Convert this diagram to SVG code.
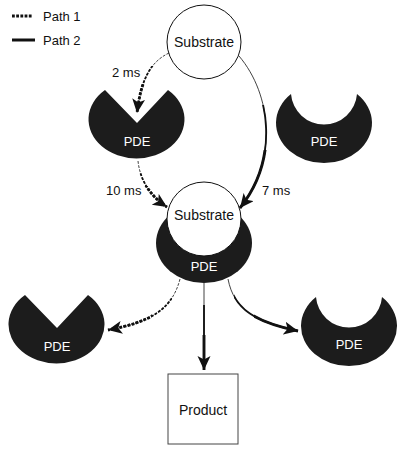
<svg xmlns="http://www.w3.org/2000/svg" xmlns:xlink="http://www.w3.org/1999/xlink" width="405" height="450" viewBox="0 0 405 450">
<style>
  .lbl { font-family: "Liberation Sans", Arial, sans-serif; font-size: 13px; fill: #111; }
  .sub { font-family: "Liberation Sans", Arial, sans-serif; font-size: 14px; fill: #111; text-anchor: middle; }
  .pde { font-family: "Liberation Sans", Arial, sans-serif; font-size: 13px; fill: #fff; text-anchor: middle; }
  .enz { fill: #1c1c1c; }
  .circ { fill: #fff; stroke: #111; stroke-width: 1; }
  .con { fill: none; stroke: #111; }
  .dot { stroke-dasharray: 2.8 1.4; }
  .w1 { stroke-width: 0.8; }
  .w2 { stroke-width: 1.8; }
  .w3 { stroke-width: 2.9; }
</style>
<defs>
  <marker id="ah" markerUnits="userSpaceOnUse" markerWidth="16" markerHeight="14" refX="14" refY="6.5" orient="auto" viewBox="0 0 16 14">
    <path d="M0,0 L14,6.5 L0,13 L3.5,6.5 Z" fill="#111"/>
  </marker>
  <clipPath id="c1m" clipPathUnits="userSpaceOnUse"><rect x="90" y="66" width="120" height="70"/></clipPath>
  <clipPath id="c1t" clipPathUnits="userSpaceOnUse"><rect x="90" y="84" width="120" height="50"/></clipPath>
  <clipPath id="c2m" clipPathUnits="userSpaceOnUse"><rect x="220" y="105" width="80" height="125"/></clipPath>
  <clipPath id="c2t" clipPathUnits="userSpaceOnUse"><rect x="220" y="150" width="80" height="80"/></clipPath>
  <clipPath id="c3m" clipPathUnits="userSpaceOnUse"><rect x="120" y="173" width="70" height="52"/></clipPath>
  <clipPath id="c3t" clipPathUnits="userSpaceOnUse"><rect x="120" y="186" width="70" height="42"/></clipPath>
  <clipPath id="c4m" clipPathUnits="userSpaceOnUse"><rect x="90" y="270" width="82" height="80"/></clipPath>
  <clipPath id="c4t" clipPathUnits="userSpaceOnUse"><rect x="90" y="270" width="62" height="80"/></clipPath>
  <clipPath id="c5m" clipPathUnits="userSpaceOnUse"><rect x="234" y="270" width="80" height="80"/></clipPath>
  <clipPath id="c5t" clipPathUnits="userSpaceOnUse"><rect x="254" y="270" width="60" height="80"/></clipPath>
  <clipPath id="c6m" clipPathUnits="userSpaceOnUse"><rect x="180" y="305" width="50" height="75"/></clipPath>
  <clipPath id="c6t" clipPathUnits="userSpaceOnUse"><rect x="180" y="335" width="50" height="45"/></clipPath>
</defs>

<g id="legend">
  <line class="con dot" x1="12" y1="16" x2="33" y2="16" stroke-width="3" stroke-dasharray="3 1.4"/>
  <text class="lbl" x="43" y="20.5">Path 1</text>
  <line class="con" x1="12" y1="40" x2="35" y2="40" stroke-width="3"/>
  <text class="lbl" x="43" y="44.5">Path 2</text>
</g>

<g id="pde-middle">
  <ellipse class="enz" cx="204" cy="243" rx="48" ry="40"/>
  <circle class="circ" cx="204" cy="219" r="37"/>
  <text class="sub" x="204" y="220">Substrate</text>
  <text class="pde" x="204" y="271">PDE</text>
</g>

<g id="substrate-top">
  <circle class="circ" cx="204" cy="42" r="37"/>
  <text class="sub" x="204" y="47">Substrate</text>
</g>

<g id="pde-top-left">
  <path class="enz" d="M105,90 A48,39 0 1,0 168,90 L137,123 Z"/>
  <text class="pde" x="137" y="146">PDE</text>
</g>

<g id="pde-top-right">
  <path class="enz" d="M291,94 A48,40 0 1,0 357,94 A33.1,33.1 0 0,1 291,94 Z"/>
  <text class="pde" x="324" y="146">PDE</text>
</g>

<g id="pde-bottom-left">
  <path class="enz" d="M25,295 A48,39 0 1,0 88,295 L57,328 Z"/>
  <text class="pde" x="57" y="351">PDE</text>
</g>

<g id="pde-bottom-right">
  <path class="enz" d="M316,297 A48,40 0 1,0 382,297 A33.1,33.1 0 0,1 316,297 Z"/>
  <text class="pde" x="349" y="349">PDE</text>
</g>

<g id="product">
  <rect x="168" y="374" width="70" height="70" fill="#fff" stroke="#444" stroke-width="1"/>
  <text class="sub" x="203" y="415">Product</text>
</g>

<g id="connectors">
  <!-- C1 dotted: substrate -> top-left PDE -->
  <path class="con dot w1" d="M169,53 C150,62 141,80 137,113"/>
  <path class="con dot w2" clip-path="url(#c1m)" d="M169,53 C150,62 141,80 137,113"/>
  <path class="con dot w3" clip-path="url(#c1t)" marker-end="url(#ah)" d="M169,53 C150,62 141,80 137,113"/>
  <!-- C2 solid: substrate -> middle -->
  <path class="con w1" d="M239,56 C272,95 278,160 240,208"/>
  <path class="con w2" clip-path="url(#c2m)" d="M239,56 C272,95 278,160 240,208"/>
  <path class="con w3" clip-path="url(#c2t)" marker-end="url(#ah)" d="M239,56 C272,95 278,160 240,208"/>
  <!-- C3 dotted: top-left PDE -> middle -->
  <path class="con dot w1" d="M138,161 C140,180 150,196 167,207"/>
  <path class="con dot w2" clip-path="url(#c3m)" d="M138,161 C140,180 150,196 167,207"/>
  <path class="con dot w3" clip-path="url(#c3t)" marker-end="url(#ah)" d="M138,161 C140,180 150,196 167,207"/>
  <!-- C4 dotted: middle -> bottom-left PDE -->
  <path class="con dot w1" d="M180,279 C172,310 150,322 108,330"/>
  <path class="con dot w2" clip-path="url(#c4m)" d="M180,279 C172,310 150,322 108,330"/>
  <path class="con dot w3" clip-path="url(#c4t)" marker-end="url(#ah)" d="M180,279 C172,310 150,322 108,330"/>
  <!-- C5 solid: middle -> bottom-right PDE -->
  <path class="con w1" d="M228,279 C234,310 256,322 298,331"/>
  <path class="con w2" clip-path="url(#c5m)" d="M228,279 C234,310 256,322 298,331"/>
  <path class="con w3" clip-path="url(#c5t)" marker-end="url(#ah)" d="M228,279 C234,310 256,322 298,331"/>
  <!-- C6 solid: middle -> product -->
  <path class="con w1" d="M204,283 L204,370"/>
  <path class="con w2" clip-path="url(#c6m)" d="M204,283 L204,370"/>
  <path class="con w3" clip-path="url(#c6t)" marker-end="url(#ah)" d="M204,283 L204,370"/>
</g>

<g id="labels">
  <text class="lbl" x="112" y="77">2 ms</text>
  <text class="lbl" x="106" y="195">10 ms</text>
  <text class="lbl" x="262" y="195">7 ms</text>
</g>
</svg>
